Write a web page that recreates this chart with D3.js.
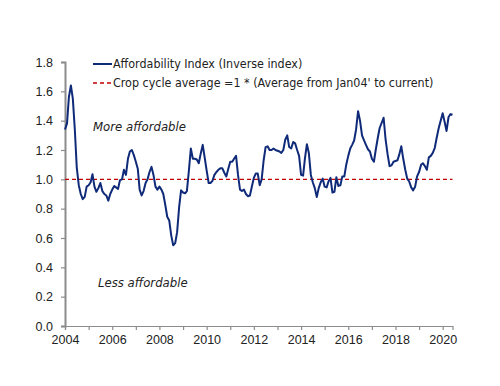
<!DOCTYPE html>
<html>
<head>
<meta charset="utf-8">
<script src="https://cdn.jsdelivr.net/npm/d3@7"></script>
<style>
  body { margin: 0; background: #fff; }
  svg { font-family: "DejaVu Sans Condensed", "DejaVu Sans", sans-serif; }
</style>
</head>
<body>
<svg id="chart" width="500" height="386"></svg>
<script>
// monthly affordability index, first value = Jan 2004
const startMonth = new Date(2004, 0, 1);
const indexValues = [
  1.34, 1.38, 1.56, 1.64, 1.55, 1.34, 1.08, 0.96, 0.90, 0.865, 0.88, 0.95,      // 2004
  0.96, 0.98, 1.035, 0.95, 0.915, 0.94, 0.975, 0.92, 0.90, 0.89, 0.855, 0.90,   // 2005
  0.93, 0.955, 0.945, 0.935, 0.995, 1.00, 1.065, 1.03, 1.14, 1.19, 1.20, 1.165, // 2006
  1.12, 1.07, 0.93, 0.89, 0.92, 0.975, 1.00, 1.05, 1.085, 1.03, 0.95, 0.93,     // 2007
  0.95, 0.93, 0.90, 0.825, 0.745, 0.72, 0.62, 0.55, 0.565, 0.64, 0.81, 0.925,   // 2008
  0.91, 0.905, 0.92, 1.06, 1.21, 1.14, 1.14, 1.135, 1.11, 1.175, 1.235, 1.15,   // 2009
  1.06, 0.975, 0.975, 0.99, 1.03, 1.05, 1.065, 1.075, 1.075, 1.045, 1.02, 1.07, // 2010
  1.12, 1.12, 1.14, 1.16, 1.03, 0.93, 0.92, 0.93, 0.90, 0.885, 0.89, 0.95,      // 2011
  1.01, 1.04, 1.04, 0.96, 1.00, 1.13, 1.22, 1.225, 1.20, 1.20, 1.21, 1.20,      // 2012
  1.195, 1.19, 1.18, 1.20, 1.27, 1.30, 1.22, 1.21, 1.255, 1.245, 1.20, 1.16,    // 2013
  1.03, 1.025, 1.14, 1.24, 1.18, 1.03, 0.98, 0.94, 0.88, 0.94, 0.98, 1.005,     // 2014
  0.95, 0.945, 0.985, 1.01, 0.91, 0.915, 1.015, 0.955, 0.96, 1.02, 1.02, 1.10,  // 2015
  1.16, 1.21, 1.235, 1.265, 1.34, 1.465, 1.40, 1.30, 1.265, 1.235, 1.205, 1.19, // 2016
  1.14, 1.12, 1.20, 1.28, 1.35, 1.385, 1.42, 1.27, 1.17, 1.09, 1.095, 1.12,     // 2017
  1.125, 1.13, 1.17, 1.225, 1.14, 1.065, 1.005, 0.985, 0.945, 0.925, 0.95, 1.02,// 2018
  1.05, 1.10, 1.11, 1.09, 1.065, 1.15, 1.16, 1.18, 1.215, 1.285, 1.35, 1.40,    // 2019
  1.45, 1.39, 1.33, 1.425, 1.445, 1.44                                          // 2020
];
const cycleAverage = 1;
const yTicks = [0, 0.2, 0.4, 0.6, 0.8, 1.0, 1.2, 1.4, 1.6, 1.8];
const xLabelYears = [2004, 2006, 2008, 2010, 2012, 2014, 2016, 2018, 2020];
const legendLabels = [
  'Affordability Index (Inverse index)',
  'Crop cycle average =1 * (Average from Jan04\' to current)'
];

const data = indexValues.map((v, i) => ({
  date: d3.timeMonth.offset(startMonth, i),
  value: v
}));
const lastMonth = data[data.length - 1].date;

const svg = d3.select('#chart');
const axisColor = '#8c8c8c';
const textColor = '#222';
const lineColor = '#0f2a78';
const avgColor = '#c00000';

const x = d3.scaleTime()
  .domain([startMonth, lastMonth])
  .range([65, 452.5]);

const y = d3.scaleLinear()
  .domain([0, 1.8])
  .range([326, 62]);

// y axis
const yAxis = svg.append('g')
  .attr('transform', 'translate(65,0)')
  .call(d3.axisLeft(y).tickValues(yTicks).tickFormat(d3.format('.1f')).tickSize(4).tickPadding(8));
yAxis.select('.domain').attr('stroke', axisColor).attr('stroke-width', 2);

// x axis - tick every year, label every two
const xAxis = svg.append('g')
  .attr('transform', 'translate(0,326)')
  .call(d3.axisBottom(x)
    .ticks(d3.timeYear.every(1))
    .tickSize(4)
    .tickPadding(5)
    .tickFormat(d => xLabelYears.includes(d.getFullYear()) ? d.getFullYear() : ''));
xAxis.select('.domain').attr('stroke', axisColor).attr('stroke-width', 1.2);

svg.selectAll('.tick line').attr('stroke', axisColor).attr('stroke-width', 1.2);
svg.selectAll('.tick text')
  .attr('fill', textColor)
  .style('font-size', '12.5px');

// average line
svg.append('line')
  .attr('x1', x(startMonth))
  .attr('x2', x(lastMonth))
  .attr('y1', y(cycleAverage))
  .attr('y2', y(cycleAverage))
  .attr('stroke', avgColor)
  .attr('stroke-width', 1.3)
  .attr('stroke-dasharray', '4,3');

// index line
const line = d3.line()
  .x(d => x(d.date))
  .y(d => y(d.value));

svg.append('path')
  .datum(data)
  .attr('fill', 'none')
  .attr('stroke', lineColor)
  .attr('stroke-width', 2)
  .attr('stroke-linejoin', 'round')
  .attr('d', line);

// legend
const legend = svg.append('g');
legend.append('line')
  .attr('x1', 93).attr('x2', 112)
  .attr('y1', 64).attr('y2', 64)
  .attr('stroke', lineColor)
  .attr('stroke-width', 2);
legend.append('line')
  .attr('x1', 93).attr('x2', 112)
  .attr('y1', 83).attr('y2', 83)
  .attr('stroke', avgColor)
  .attr('stroke-width', 1.3)
  .attr('stroke-dasharray', '4,3');
legend.selectAll('text')
  .data(legendLabels)
  .enter()
  .append('text')
  .attr('x', 113)
  .attr('y', (d, i) => 64 + i * 19)
  .attr('dy', '0.35em')
  .attr('fill', textColor)
  .style('font-size', '12.4px')
  .text(d => d);

// annotations
svg.append('text')
  .attr('x', 93)
  .attr('y', 126)
  .attr('dy', '0.35em')
  .attr('fill', textColor)
  .style('font-size', '13px')
  .style('font-style', 'italic')
  .text('More affordable');

svg.append('text')
  .attr('x', 98)
  .attr('y', 282)
  .attr('dy', '0.35em')
  .attr('fill', textColor)
  .style('font-size', '13px')
  .style('font-style', 'italic')
  .text('Less affordable');
</script>
</body>
</html>
